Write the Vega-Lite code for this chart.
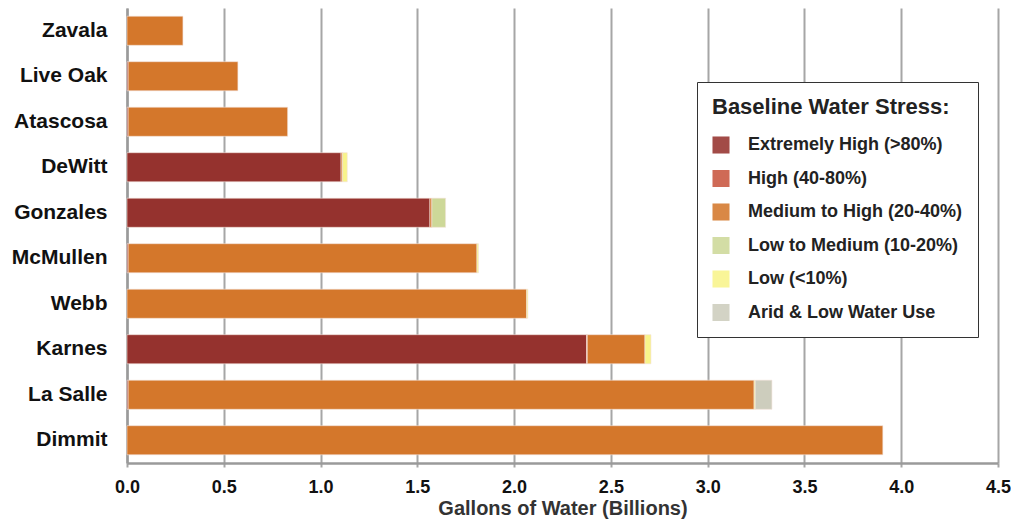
{
  "$schema": "https://vega.github.io/schema/vega-lite/v6.json",
  "width": 871,
  "height": 455,
  "autosize": "none",
  "padding": {"left": 127, "top": 8, "right": 13, "bottom": 59},
  "background": "white",
  "data": {"values": [
    {"county": "Zavala", "stress": "Medium to High (20-40%)", "ord": 3, "value": 0.289},
    {"county": "Live Oak", "stress": "Extremely High (>80%)", "ord": 1, "value": 0.006},
    {"county": "Live Oak", "stress": "Medium to High (20-40%)", "ord": 3, "value": 0.567},
    {"county": "Atascosa", "stress": "Extremely High (>80%)", "ord": 1, "value": 0.006},
    {"county": "Atascosa", "stress": "Medium to High (20-40%)", "ord": 3, "value": 0.824},
    {"county": "DeWitt", "stress": "Extremely High (>80%)", "ord": 1, "value": 1.106},
    {"county": "DeWitt", "stress": "Medium to High (20-40%)", "ord": 3, "value": 0.008},
    {"county": "DeWitt", "stress": "Low (<10%)", "ord": 5, "value": 0.024},
    {"county": "Gonzales", "stress": "Extremely High (>80%)", "ord": 1, "value": 1.565},
    {"county": "Gonzales", "stress": "Medium to High (20-40%)", "ord": 3, "value": 0.01},
    {"county": "Gonzales", "stress": "Low to Medium (10-20%)", "ord": 4, "value": 0.071},
    {"county": "McMullen", "stress": "Extremely High (>80%)", "ord": 1, "value": 0.006},
    {"county": "McMullen", "stress": "Medium to High (20-40%)", "ord": 3, "value": 1.802},
    {"county": "McMullen", "stress": "Low (<10%)", "ord": 5, "value": 0.008},
    {"county": "Webb", "stress": "Medium to High (20-40%)", "ord": 3, "value": 2.065},
    {"county": "Webb", "stress": "Low (<10%)", "ord": 5, "value": 0.006},
    {"county": "Karnes", "stress": "Extremely High (>80%)", "ord": 1, "value": 2.374},
    {"county": "Karnes", "stress": "High (40-80%)", "ord": 2, "value": 0.004},
    {"county": "Karnes", "stress": "Medium to High (20-40%)", "ord": 3, "value": 0.298},
    {"county": "Karnes", "stress": "Low (<10%)", "ord": 5, "value": 0.031},
    {"county": "La Salle", "stress": "Extremely High (>80%)", "ord": 1, "value": 0.006},
    {"county": "La Salle", "stress": "Medium to High (20-40%)", "ord": 3, "value": 3.234},
    {"county": "La Salle", "stress": "Low (<10%)", "ord": 5, "value": 0.006},
    {"county": "La Salle", "stress": "Arid & Low Water Use", "ord": 6, "value": 0.086},
    {"county": "Dimmit", "stress": "Medium to High (20-40%)", "ord": 3, "value": 3.905}
  ]},
  "mark": {"type": "bar", "stroke": "#f3e2dc", "strokeWidth": 0.6},
  "encoding": {
    "y": {
      "field": "county", "type": "nominal",
      "sort": ["Zavala", "Live Oak", "Atascosa", "DeWitt", "Gonzales", "McMullen", "Webb", "Karnes", "La Salle", "Dimmit"],
      "scale": {"paddingInner": 0.36, "paddingOuter": 0.18},
      "axis": {
        "title": null, "ticks": false, "grid": false,
        "domain": true, "domainColor": "#9a9a9a", "domainWidth": 2.5,
        "labelFont": "Liberation Sans, Arial, sans-serif",
        "labelFontWeight": "bold", "labelFontSize": 21, "labelColor": "#111111",
        "labelPadding": 20
      }
    },
    "x": {
      "field": "value", "type": "quantitative", "stack": "zero",
      "scale": {"domain": [0, 4.5], "nice": false},
      "axis": {
        "title": "Gallons of Water (Billions)",
        "values": [0, 0.5, 1, 1.5, 2, 2.5, 3, 3.5, 4, 4.5],
        "format": ".1f",
        "grid": true, "gridColor": "#a6a6a6", "gridWidth": 2,
        "ticks": true, "tickColor": "#a6a6a6", "tickWidth": 2, "tickSize": 4,
        "domain": true, "domainColor": "#9a9a9a", "domainWidth": 2.5,
        "labelFont": "Liberation Sans, Arial, sans-serif",
        "labelFontWeight": "bold", "labelFontSize": 18, "labelColor": "#111111",
        "labelPadding": 11, "labelFlush": false,
        "titleFont": "Liberation Sans, Arial, sans-serif",
        "titleFontWeight": "bold", "titleFontSize": 20, "titleColor": "#333333",
        "titlePadding": 2
      }
    },
    "color": {
      "field": "stress", "type": "nominal",
      "scale": {
        "domain": ["Extremely High (>80%)", "High (40-80%)", "Medium to High (20-40%)", "Low to Medium (10-20%)", "Low (<10%)", "Arid & Low Water Use"],
        "range": ["#95322e", "#c8553f", "#d4772b", "#cdd898", "#f8f48a", "#cdcdbd"]
      },
      "legend": {
        "title": "Baseline Water Stress:",
        "orient": "none", "legendX": 570, "legendY": 74,
        "padding": 15,
        "strokeColor": "#333333", "fillColor": "white", "cornerRadius": 0,
        "symbolType": "square", "symbolSize": 290, "symbolStrokeWidth": 0,
        "symbolOpacity": 0.88,
        "rowPadding": 15.5, "labelOffset": 18,
        "titleFont": "Liberation Sans, Arial, sans-serif",
        "titleFontWeight": "bold", "titleFontSize": 22, "titleColor": "#222222",
        "titlePadding": 17, "titleLimit": 500,
        "labelFont": "Liberation Sans, Arial, sans-serif",
        "labelFontWeight": "bold", "labelFontSize": 18, "labelColor": "#222222",
        "labelLimit": 400
      }
    },
    "order": {"field": "ord", "type": "quantitative", "sort": "ascending"}
  },
  "config": {"view": {"stroke": null}}
}
